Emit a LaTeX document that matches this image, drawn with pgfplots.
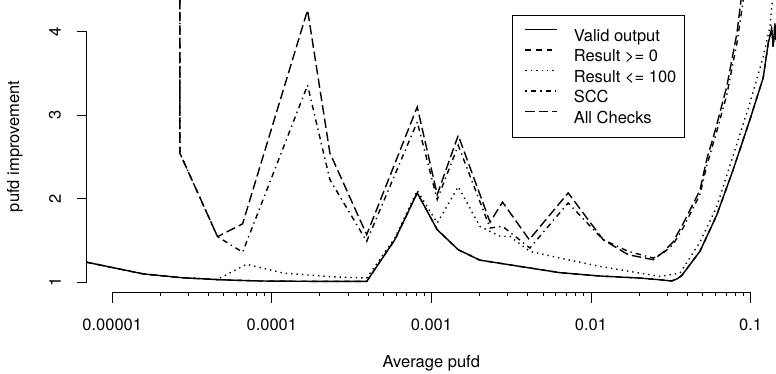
\documentclass[border=0pt]{standalone}
\usepackage{fontspec}
\setmainfont{TeX Gyre Heros}
\usepackage{pgfplots}
\pgfplotsset{compat=1.18}
\begin{document}
\fontsize{16.5}{19.8}\selectfont
\begin{tikzpicture}
\useasboundingbox (-86.7pt,-81.3pt) rectangle (689.3pt,292.7pt);
\begin{axis}[
  scale only axis,
  width=689.3pt, height=292.7pt,
  xmode=log,
  xmin=6.918e-6, xmax=0.1442,
  ymin=0.875, ymax=4.381,
  axis lines*=left,
  axis line style={draw=none},
  clip mode=individual,
  tick align=outside,
  tick pos=left,
  major tick length=10pt,
  every tick/.style={black, line width=0.8pt},
  xtick={1e-5,1e-4,1e-3,1e-2,1e-1},
  xticklabels={0.00001,0.0001,0.001,0.01,0.1},
  minor xtick={},
  ytick={1,2,3,4},
  yticklabels={1,2,3,4},
  xticklabel style={anchor=base, inner sep=0pt, yshift=-28.3pt},
  yticklabel style={xshift=-21.7pt, rotate=90, anchor=center, inner sep=0pt},
  every axis x label/.style={at={(axis description cs:0.5,-0.240)}, anchor=center},
  every axis y label/.style={at={(axis description cs:-0.104,0.5)}, rotate=90, anchor=center},
  xlabel={Average pufd},
  ylabel={pufd improvement},
  legend style={at={(0.6166,0.9488)}, anchor=north west, draw=black, line width=0.8pt,
    inner xsep=8.3pt, inner ysep=10pt, column sep=16pt, row sep=0pt,
    font=\fontsize{16.5}{19.8}\selectfont,
    nodes={inner sep=0pt, text height=16.1pt, text depth=4.3pt}},
  legend cell align=left,
  legend image code/.code={%
    \path[draw=none, fill=none] (0pt,5.9pt) -- (36.7pt,5.9pt);
    \draw[#1] (5pt,5.9pt) -- (36.7pt,5.9pt);},
]
\addplot[black, line width=1.4pt] table {
6.92e-6 1.24
1.563e-5 1.10
2.72e-5 1.055
4.73e-5 1.03
8.41e-5 1.015
2.31e-4 1.01
3.93e-4 1.01
5.90e-4 1.51
8.15e-4 2.07
1.087e-3 1.63
1.472e-3 1.39
2.01e-3 1.265
3.58e-3 1.19
6.38e-3 1.115
1.137e-2 1.075
2.025e-2 1.05
2.70e-2 1.03
3.20e-2 1.015
3.45e-2 1.04
3.70e-2 1.08
4.81e-2 1.37
6.12e-2 1.80
7.78e-2 2.35
9.91e-2 2.95
0.1199 3.45
0.1289 3.86
0.1354 4.04
0.1386 3.82
0.1420 4.10
0.1442 3.90
};
\addlegendentry{Valid output}
\addplot[black, line width=1.4pt, dash pattern=on 5.4pt off 5.4pt] table {
6.92e-6 1.24
1.563e-5 1.10
2.72e-5 1.055
4.73e-5 1.03
8.41e-5 1.015
2.31e-4 1.01
3.93e-4 1.01
5.90e-4 1.51
8.15e-4 2.07
1.087e-3 1.63
1.472e-3 1.39
2.01e-3 1.265
3.58e-3 1.19
6.38e-3 1.115
1.137e-2 1.075
2.025e-2 1.05
2.70e-2 1.03
3.20e-2 1.015
3.45e-2 1.04
3.70e-2 1.08
4.81e-2 1.37
6.12e-2 1.80
7.78e-2 2.35
9.91e-2 2.95
0.1199 3.45
0.1289 3.86
0.1354 4.04
0.1386 3.82
0.1420 4.10
0.1442 3.90
};
\addlegendentry{Result >= 0}
\addplot[black, line width=1.4pt, dash pattern=on 1.35pt off 4.05pt] table {
6.92e-6 1.24
1.563e-5 1.10
2.72e-5 1.055
4.57e-5 1.035
6.95e-5 1.216
1.178e-4 1.11
2.31e-4 1.067
3.93e-4 1.05
5.90e-4 1.53
8.15e-4 2.10
1.087e-3 1.71
1.472e-3 2.145
2.01e-3 1.67
2.69e-3 1.55
3.10e-3 1.55
4.14e-3 1.37
6.38e-3 1.29
1.137e-2 1.19
2.025e-2 1.11
2.70e-2 1.07
3.61e-2 1.11
4.81e-2 1.48
6.12e-2 1.90
7.78e-2 2.52
9.91e-2 3.15
0.1199 3.70
0.1321 4.06
0.138 4.45
};
\addlegendentry{Result <= 100}
\addplot[black, line width=1.4pt, dash pattern=on 1.35pt off 4.05pt on 5.4pt off 4.05pt] table {
2.655e-5 50
2.655e-5 2.545
4.57e-5 1.546
6.56e-5 1.36
1.675e-4 3.36
2.31e-4 2.23
3.93e-4 1.49
8.15e-4 2.92
1.087e-3 1.99
1.472e-3 2.64
2.33e-3 1.65
2.79e-3 1.67
4.14e-3 1.41
7.19e-3 1.95
1.191e-2 1.51
1.71e-2 1.37
2.455e-2 1.29
2.83e-2 1.35
3.26e-2 1.45
3.77e-2 1.65
4.81e-2 2.05
5.32e-2 2.40
5.80e-2 2.65
6.12e-2 2.80
7.10e-2 3.25
8.20e-2 3.86
8.99e-2 4.38
0.1 5.5
};
\addlegendentry{SCC}
\addplot[black, line width=1.4pt, dash pattern=on 9.45pt off 4.05pt] table {
2.655e-5 50
2.655e-5 2.545
4.57e-5 1.546
6.56e-5 1.70
1.675e-4 4.26
2.31e-4 2.55
3.93e-4 1.57
8.15e-4 3.10
1.087e-3 2.05
1.472e-3 2.76
2.33e-3 1.72
2.79e-3 1.96
4.10e-3 1.51
7.19e-3 2.07
1.191e-2 1.51
1.71e-2 1.33
2.455e-2 1.27
2.83e-2 1.36
3.26e-2 1.48
3.77e-2 1.70
4.81e-2 2.10
5.32e-2 2.48
5.80e-2 2.72
6.12e-2 2.88
7.10e-2 3.35
8.20e-2 3.98
8.8e-2 4.45
0.1 5.5
};
\addlegendentry{All Checks}
\draw[black, line width=0.8pt] (axis cs:1e-5,0.875) -- (axis cs:0.1,0.875);
\draw[black, line width=0.8pt] (axis cs:6.918e-6,1) -- (axis cs:6.918e-6,4);
\end{axis}
\end{tikzpicture}
\end{document}
